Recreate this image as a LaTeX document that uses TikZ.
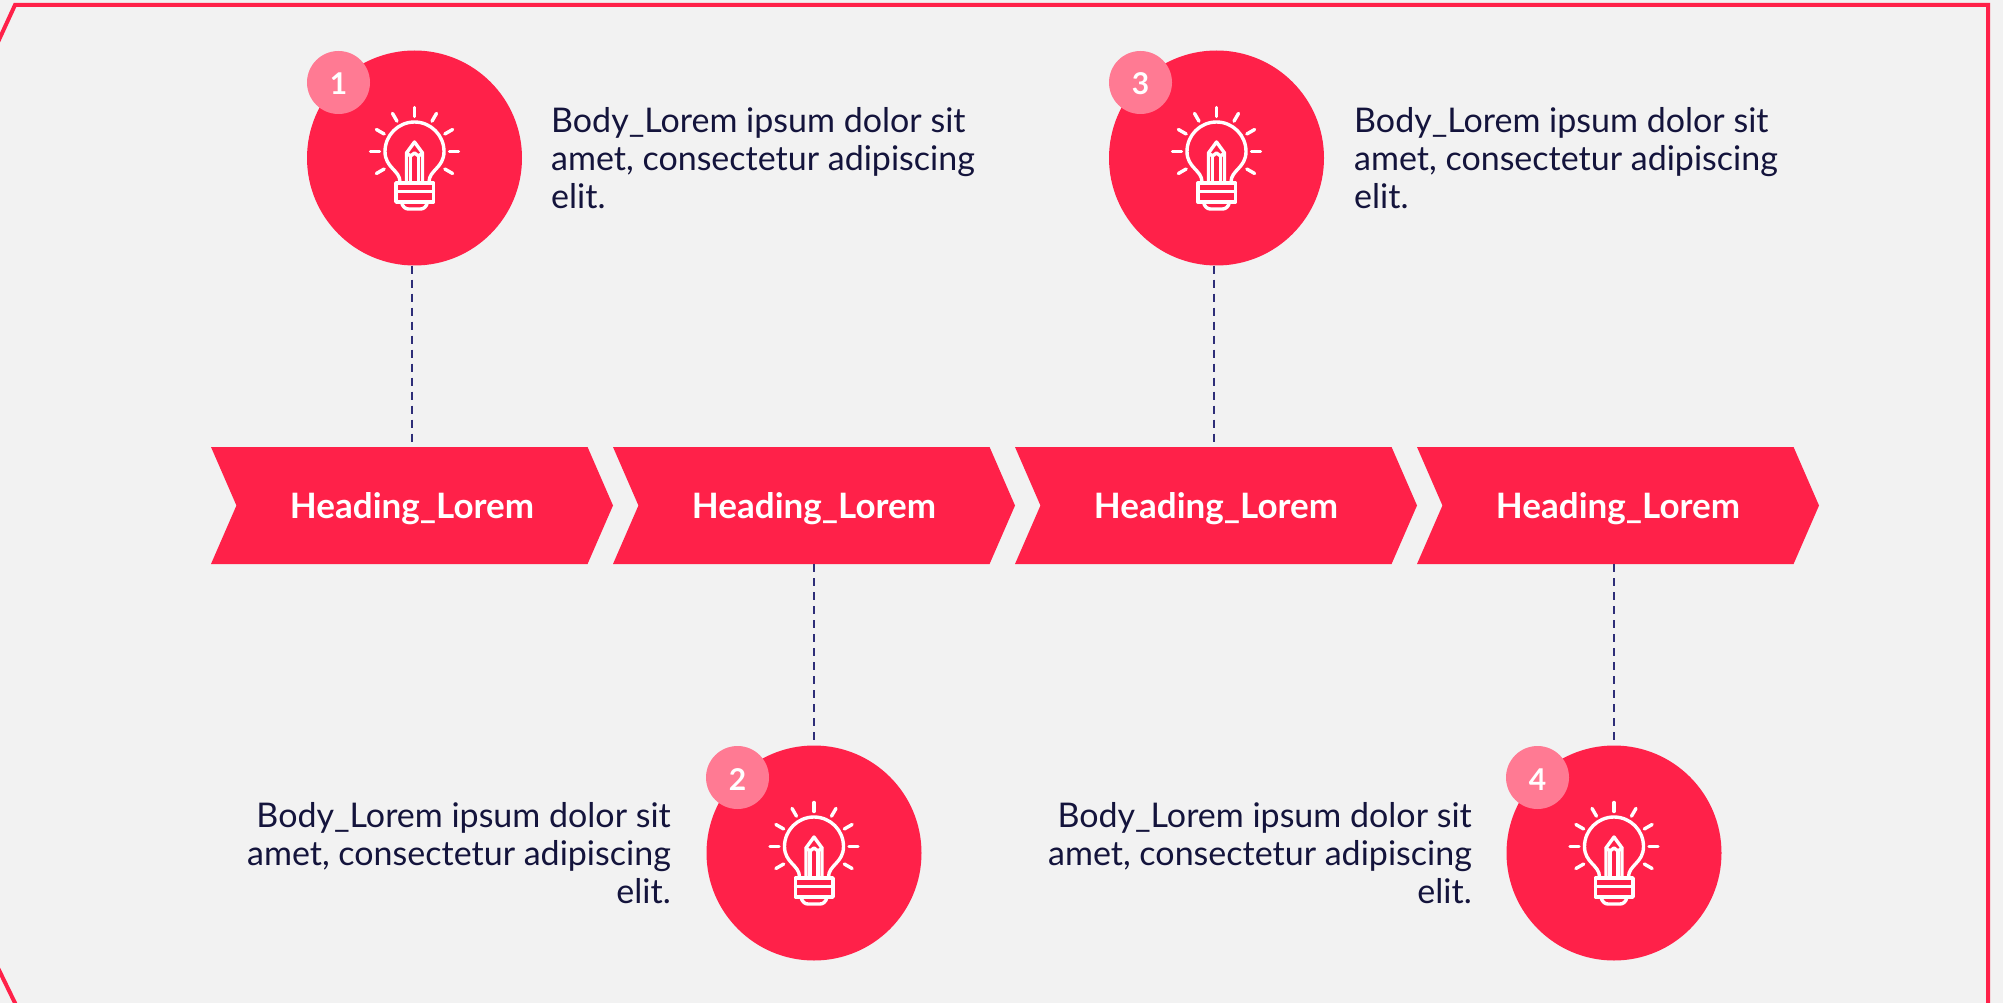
\documentclass[tikz,border=0pt]{standalone}
\usepackage{fontspec}
\setmainfont{Lato}
\usetikzlibrary{shapes.symbols}
\definecolor{redmain}{HTML}{FF2149}
\definecolor{redsoft}{HTML}{FF7A93}
\definecolor{bggray}{HTML}{F2F2F2}
\definecolor{inknavy}{HTML}{14143C}
\definecolor{dashnavy}{HTML}{2E2E78}
\tikzset{
  bigdot/.style = {circle, fill = redmain, minimum size = 215pt, inner sep = 0},
  smalldot/.style = {circle, fill = redsoft, minimum size = 63pt, inner sep = 0, text height = 25pt, text = white, font = \fontsize{30}{30}\selectfont\bfseries},
  headarrow/.style = {signal, signal to = east, signal from = west, signal pointer angle = 133, fill = redmain, minimum width = 402pt, minimum height = 117pt, inner sep = 0, text depth = 0pt, text = white, font = \fontsize{35}{35}\selectfont\bfseries},
  bodytext/.style = {text = inknavy, inner sep = 0, font = \fontsize{34}{38.3}\selectfont},
  dashline/.style = {dashnavy, line width = 2.6pt, dash pattern = on 8pt off 6pt},
  iconline/.style = {white, line width = 3.4pt, line cap = round, line join = round},
  bulbicon/.pic = {
    \foreach \a in {0,30,150,180,210,240,270,300,330}
      \draw [iconline] (0,-6.5) ++(\a:35) -- ++(\a:9);
    \draw [iconline] (-14.5,24) .. controls (-14.5,12) and (-29.5,10) .. (-29.5,-6.5)
      arc (180:360:29.5) .. controls (29.5,10) and (14.5,12) .. (14.5,24);
    \draw [iconline] (-18.5,25) rectangle (19,44);
    \draw [iconline] (-18.5,33.5) -- (19,33.5);
    \draw [iconline] (-13,44) .. controls (-12,49) and (-9,51) .. (-6,51) -- (6,51) .. controls (9,51) and (12,49) .. (13,44);
    \draw [iconline] (-8,25) -- (-8,-5) -- (0,-16) -- (8,-5) -- (8,25);
    \draw [iconline] (-8,-5) -- (-4,-2) -- (0,-5) -- (4,-2) -- (8,-5);
    \draw [iconline] (-4,-2) -- (-4,25);
    \draw [iconline] (4,-2) -- (4,25);
  }
}
\begin{document}
\begin{tikzpicture}[x = 1pt, y = -1pt]
\useasboundingbox (0,0) rectangle (2003,1003);
\clip (0,0) rectangle (2003,1003);
\fill [bggray] (0,0) rectangle (2003,1003);
\draw [redmain, line width = 4pt] (-2,42) -- (15,5) -- (1988,5) -- (1988,1005);
\draw [redmain, line width = 4pt] (-2,968) -- (16,1005);
% arrows
\node (h1) at (412,505.5) [headarrow] {Heading\_Lorem};
\node (h2) at (814,505.5) [headarrow] {Heading\_Lorem};
\node (h3) at (1216,505.5) [headarrow] {Heading\_Lorem};
\node (h4) at (1618,505.5) [headarrow] {Heading\_Lorem};
% circles
\node (c1) at (414.5,158) [bigdot] {};
\node (c2) at (814,853) [bigdot] {};
\node (c3) at (1216.5,158) [bigdot] {};
\node (c4) at (1614,853) [bigdot] {};
\pic at (c1) {bulbicon};
\pic at (c2) {bulbicon};
\pic at (c3) {bulbicon};
\pic at (c4) {bulbicon};
\node (n1) at (338.5,82.5) [smalldot] {1};
\node (n2) at (737.5,777.5) [smalldot] {2};
\node (n3) at (1140.5,82.5) [smalldot] {3};
\node (n4) at (1537.5,777.5) [smalldot] {4};
% dashes
\draw [dashline, shorten > = 5pt] (c1.south -| h1.north) -- (h1.north);
\draw [dashline, shorten > = 5pt] (h2.south) -- (c2.north);
\draw [dashline, shorten > = 5pt] ([xshift = -2.5pt]c3.south) -- ([xshift = -2.5pt]c3.south |- h3.north);
\draw [dashline, shorten > = 5pt] (c4.north |- h4.south) -- (c4.north);
% texts
\node (t1) at (551,158) [bodytext, anchor = west, align = left] {Body\_Lorem ipsum dolor sit\\amet, consectetur adipiscing\\elit.};
\node (t3) at (1354,158) [bodytext, anchor = west, align = left] {Body\_Lorem ipsum dolor sit\\amet, consectetur adipiscing\\elit.};
\node (t2) at (671,853) [bodytext, anchor = east, align = right] {Body\_Lorem ipsum dolor sit\\amet, consectetur adipiscing\\elit.};
\node (t4) at (1472,853) [bodytext, anchor = east, align = right] {Body\_Lorem ipsum dolor sit\\amet, consectetur adipiscing\\elit.};
\end{tikzpicture}
\end{document}
